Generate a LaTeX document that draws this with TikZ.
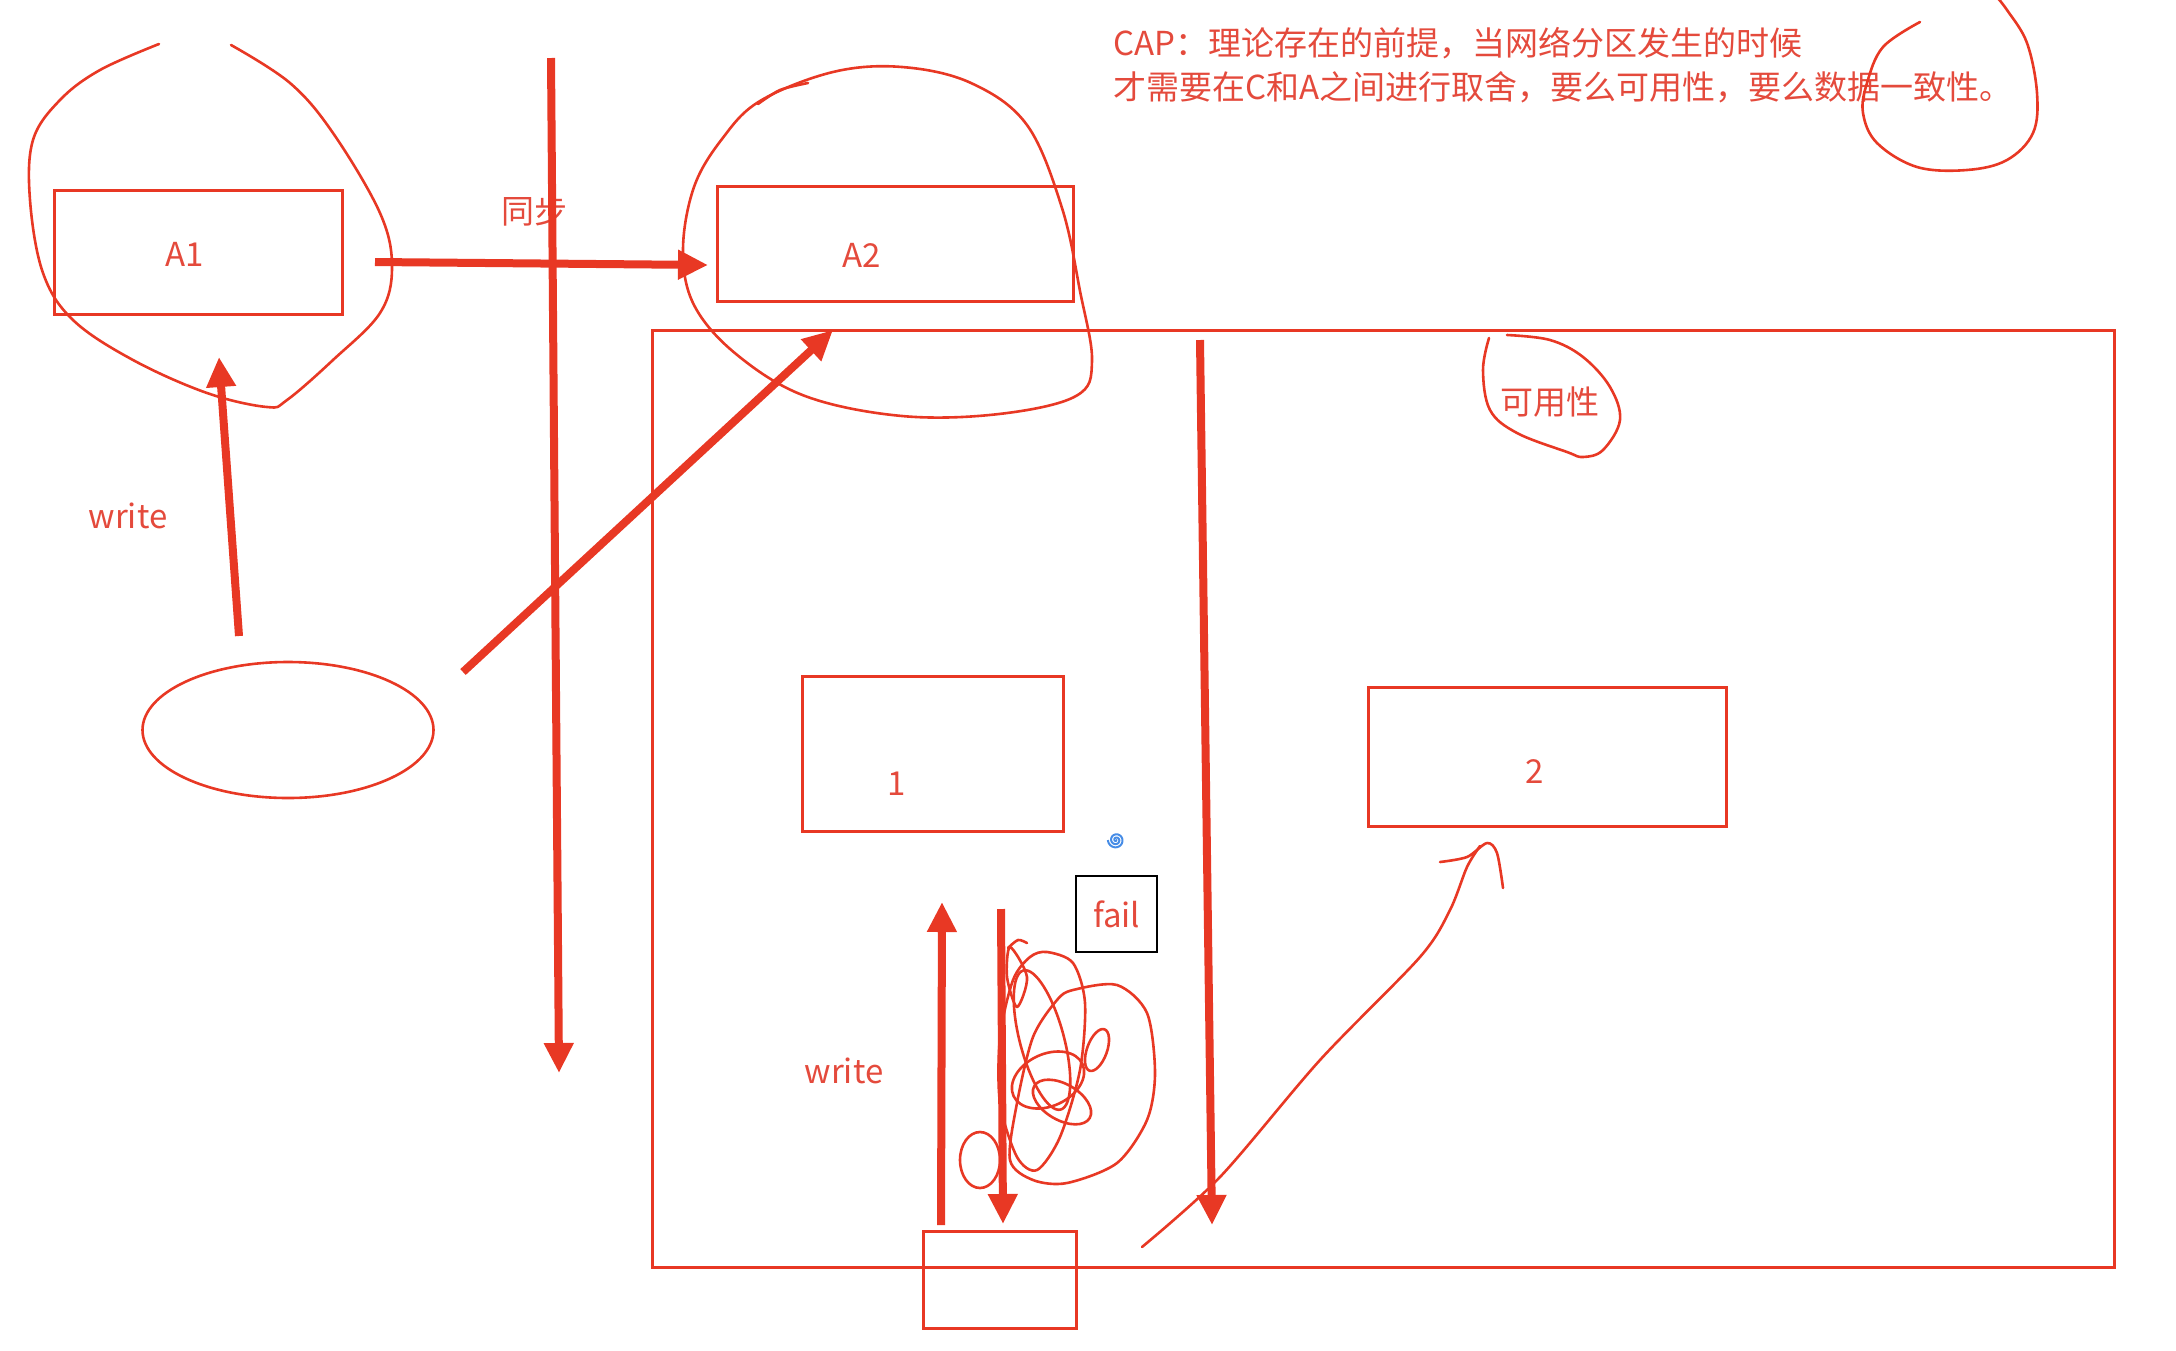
\documentclass[tikz,border=0pt]{standalone}
\usepackage{fontspec}
\newfontfamily\cjk{Noto Sans CJK SC}
\usetikzlibrary{arrows.meta,shapes.geometric}
\definecolor{inkred}{RGB}{232,56,36}
\definecolor{textred}{RGB}{228,74,60}
\definecolor{swirlblue}{RGB}{70,140,230}

\begin{document}
\begin{tikzpicture}[
		x=1pt,y=-1pt,
		box/.style={draw=inkred,line width=3pt,inner sep=0pt},
		lbl/.style={text=textred,font=\cjk\fontsize{33}{40}\selectfont,inner sep=0pt},
		ink/.style={draw=inkred,line width=2.6pt,line cap=round,line join=round},
		bigarrow/.style={draw=inkred,line width=8pt,-{Triangle[length=30pt,width=28pt]}},
	]
		\useasboundingbox (0,0) rectangle (2176,1350);

		\node[box,minimum width=288pt,minimum height=124pt] (A1) at (198,252) {};
		\node[box,minimum width=356pt,minimum height=115pt] (A2) at (895,243.5) {};
		\node[box,minimum width=1462pt,minimum height=937pt] (zone) at (1383,798.5) {};
		\node[box,minimum width=261pt,minimum height=155pt] (n1) at (932.5,753.5) {};
		\node[box,minimum width=358pt,minimum height=139pt] (n2) at (1547,756.5) {};
		\node[box,minimum width=153pt,minimum height=97pt] (low) at (999.5,1279.5) {};
		\node[draw=inkred,line width=2.6pt,ellipse,minimum width=291pt,minimum height=136pt,inner sep=0pt] (client) at (288,730) {};
		\node[lbl,draw=black,line width=2pt,minimum width=81pt,minimum height=76pt] (fail) at (1116.5,914) {fail};

		\node[lbl] (tA1) at (185,254) {A1};
		\node[lbl] (tA2) at (862,255) {A2};
		\node[lbl] (t1) at (897,784) {1};
		\node[lbl] (t2) at (1535,772) {2};
		\node[lbl] (sync) at (534,211) {同步};
		\node[lbl] (wleft) at (128,516) {write};
		\node[lbl] (wlow) at (844,1071) {write};
		\node[lbl] (avail) at (1550,402) {可用性};
		\node[lbl,anchor=west,align=left,font=\cjk\fontsize{33}{44}\selectfont] (cap) at (1113,65) {CAP：理论存在的前提，当网络分区发生的时候\\才需要在C和A之间进行取舍，要么可用性，要么数据一致性。};

		\coordinate (syncS) at (375,262);
		\coordinate (syncE) at (708,265);
		\coordinate (cutT) at (551,58);
		\coordinate (cutB) at (559,1073);
		\coordinate (wS) at (239,636);
		\coordinate (wE) at (219,357);
		\coordinate (cliS) at (463,672);
		\coordinate (cliE) at (833,330);
		\coordinate (splitT) at (1200,340);
		\coordinate (splitB) at (1212,1225);
		\coordinate (upS) at (941,1225);
		\coordinate (upE) at (942,902);
		\coordinate (dnS) at (1001,909);
		\coordinate (dnE) at (1003,1224);

		\draw[bigarrow] (syncS) -- (syncE);
		\draw[bigarrow] (cutT) -- (cutB);
		\draw[bigarrow] (wS) -- (wE);
		\draw[bigarrow] (cliS) -- (cliE);
		\draw[bigarrow] (splitT) -- (splitB);
		\draw[bigarrow] (upS) -- (upE);
		\draw[bigarrow] (dnS) -- (dnE);

		\draw[ink] plot[smooth,tension=0.6] coordinates {(159,44) (100,70) (60,100) (33,140) (30,200) (43,273) (73,320) (133,360) (207,393) (267,407) (287,400) (333,360) (380,313) (392,267) (380,213) (333,133) (290,83) (231,45)};
		\draw[ink] plot[smooth] coordinates {(758,104) (780,90) (808,83)};
		\draw[ink] plot[smooth cycle,tension=0.6] coordinates {(760,101) (833,72) (902,67) (971,83) (1027,125) (1062,208) (1080,291) (1092,361) (1076,396) (999,414) (902,416) (805,396) (736,354) (694,305) (683,250) (694,187) (722,139)};
		\draw[ink] plot[smooth,tension=0.6] coordinates {(1489,338) (1483,370) (1490,410) (1517,433) (1567,452) (1583,457) (1603,450) (1620,420) (1610,387) (1583,357) (1550,340) (1507,335)};
		\draw[ink] plot[smooth,tension=0.6] coordinates {(1920,22) (1883,47) (1867,83) (1863,113) (1877,143) (1917,167) (1967,170) (2007,160) (2033,133) (2037,93) (2027,43) (2007,10) (1995,-5)};

		\draw[ink] plot[smooth] coordinates {(1142,1247) (1220,1177) (1320,1060) (1420,957) (1450,910) (1467,867) (1480,846)};
		\draw[ink] plot[smooth] coordinates {(1440,862) (1467,857) (1487,843) (1497,853) (1503,888)};

		\draw[ink] plot[smooth] coordinates {(1008,948) (1018,940) (1027,943)};
		\draw[ink] plot[smooth cycle] coordinates {(1073,990) (1117,985) (1147,1013) (1155,1073) (1147,1120) (1117,1163) (1067,1183) (1033,1180) (1010,1160) (1017,1103) (1033,1037) (1057,1000)};
		\draw[ink] plot[smooth cycle] coordinates {(1047,952) (1073,963) (1085,1003) (1080,1070) (1060,1137) (1037,1170) (1017,1157) (1000,1103) (1000,1037) (1013,980) (1030,957)};
		\draw[ink] plot[smooth cycle] coordinates {(1010,947) (1027,977) (1017,1007) (1007,977)};
		\draw[ink,rotate around={25:(1048,1080)}] (1048,1080) ellipse (38 and 26);
		\draw[ink,rotate around={15:(1042,1040)}] (1042,1040) ellipse (22 and 72);
		\draw[ink,rotate around={-30:(1062,1102)}] (1062,1102) ellipse (32 and 18);
		\draw[ink,rotate around={-20:(1097,1050)}] (1097,1050) ellipse (10 and 22);
		\draw[ink] (980,1160) ellipse (20 and 28);

		\draw[swirlblue,line width=2pt] plot[domain=0:900,samples=80,smooth] ({1116+0.009*\x*cos(\x)},{840+0.009*\x*sin(\x)});
\end{tikzpicture}
\end{document}
